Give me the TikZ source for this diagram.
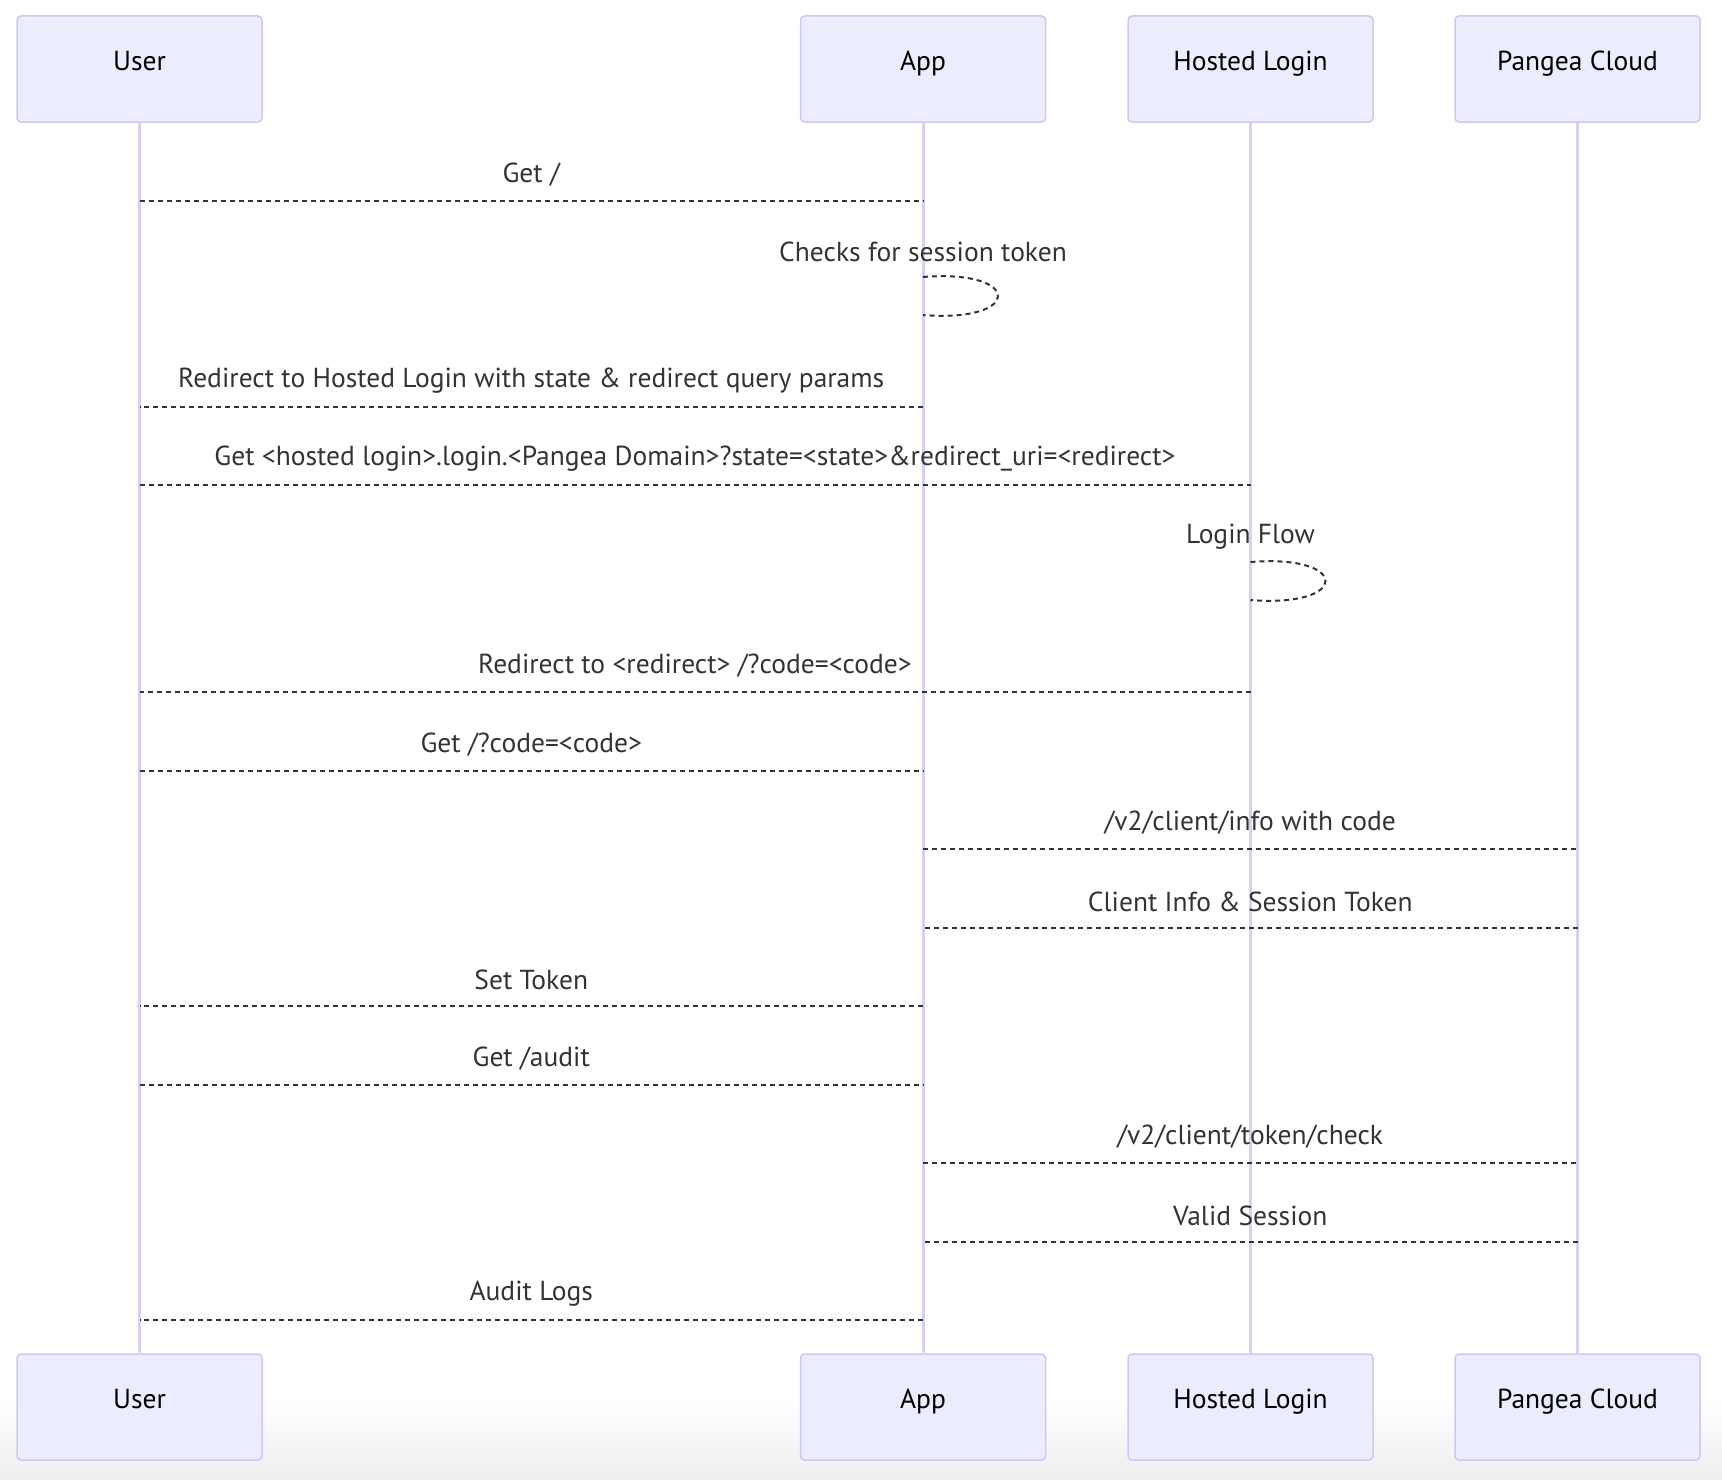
\documentclass[tikz,border=0pt]{standalone}
\usepackage{fontspec}
\setmainfont{PT Sans}
\usetikzlibrary{calc}
\definecolor{actorfill}{HTML}{ECECFF}
\definecolor{actorline}{HTML}{CFC6F2}
\definecolor{lifecol}{HTML}{D7CFF4}
\definecolor{msgcol}{HTML}{333333}

\begin{document}
\begin{tikzpicture}[x=1pt, y=-1pt, font=\fontsize{27.5}{32}\selectfont,
  actor/.style={draw=actorline, line width=1.5pt, fill=actorfill, rounded corners=4pt,
    minimum width=245pt, minimum height=106pt, inner sep=0pt, text=black,
    text height=20pt, text depth=16.5pt},
  lifeline/.style={draw=lifecol, line width=3pt},
  msgline/.style={draw=msgcol, line width=2pt, dash pattern=on 5pt off 4pt},
  msglabel/.style={text=msgcol, inner sep=0pt}]
  % message between two lifelines: name, from, to, y of the line, label
  \newcommand{\seqmsg}[5]{%
    \coordinate (#1a) at (#2.center |- 0,#4);
    \coordinate (#1b) at (#3.center |- 0,#4);
    \draw[msgline] (#1a) -- (#1b);
    \node[msglabel] (#1t) at ($(#1a)!0.5!(#1b)+(0,-26)$) {#5};
  }
  % message from a lifeline to itself: name, lifeline, y of the loop top, label
  \newcommand{\seqself}[4]{%
    \coordinate (#1a) at (#2.center |- 0,#3);
    \coordinate (#1b) at (#2.center |- 0,#3+38);
    \draw[msgline] (#1a) .. controls +(100,-8) and +(100,8) .. (#1b);
    \node[msglabel] (#1t) at ($(#1a)+(0,-25)$) {#4};
  }
  \useasboundingbox (0,0) rectangle (1722,1480);
  \shade[top color=white, bottom color=black!7] (0,1400) rectangle (1722,1480);
  % ---------------------------------------------------------------- participants
  \node[actor] (user)   at (139.5,69) {User};
  \node[actor] (app)    at (923,69)   {App};
  \node[actor] (hosted) at (1250.5,69) {Hosted Login};
  \node[actor] (pangea) at (1577.5,69) {Pangea Cloud};
  \node[actor] (userB)   at (139.5,1407) {User};
  \node[actor] (appB)    at (923,1407)   {App};
  \node[actor] (hostedB) at (1250.5,1407) {Hosted Login};
  \node[actor] (pangeaB) at (1577.5,1407) {Pangea Cloud};
  % lifelines
  \draw[lifeline] (user) -- (userB);
  \draw[lifeline] (app) -- (appB);
  \draw[lifeline] (hosted) -- (hostedB);
  \draw[lifeline] (pangea) -- (pangeaB);
  % ---------------------------------------------------------------- messages
  \seqmsg{m1}{user}{app}{201}{Get /}
  \seqself{s1}{app}{277}{Checks for session token}
  \seqmsg{m2}{app}{user}{407}{Redirect to Hosted Login with state \& redirect query params}
  \seqmsg{m3}{user}{hosted}{485}{Get <hosted login>.login.<Pangea Domain>?state=<state>\&redirect\_uri=<redirect>}
  \seqself{s2}{hosted}{562}{Login Flow}
  \seqmsg{m4}{hosted}{user}{692}{Redirect to <redirect> /?code=<code>}
  \seqmsg{m5}{user}{app}{771}{Get /?code=<code>}
  \seqmsg{m6}{app}{pangea}{849}{/v2/client/info with code}
  \seqmsg{m7}{pangea}{app}{928}{Client Info \& Session Token}
  \seqmsg{m8}{app}{user}{1006}{Set Token}
  \seqmsg{m9}{user}{app}{1085}{Get /audit}
  \seqmsg{m10}{app}{pangea}{1163}{/v2/client/token/check}
  \seqmsg{m11}{pangea}{app}{1242}{Valid Session}
  \seqmsg{m12}{app}{user}{1320}{Audit Logs}
\end{tikzpicture}
\end{document}
